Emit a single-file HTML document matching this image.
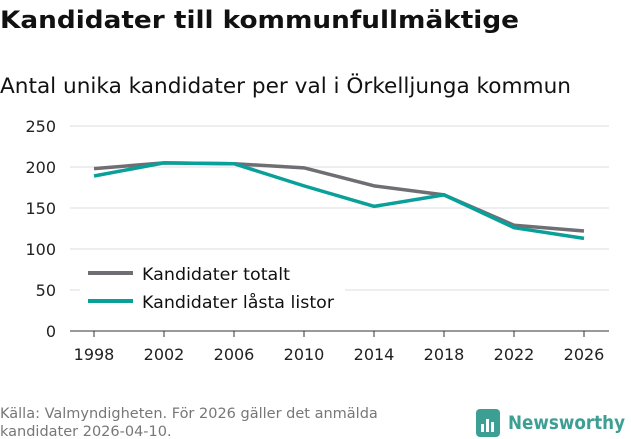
<!DOCTYPE html>
<html><head><meta charset="utf-8"><style>
body{margin:0;background:#fff;width:631px;height:439px;overflow:hidden;font-family:"DejaVu Sans","Liberation Sans",sans-serif;}
svg{display:block}
</style></head><body>
<svg width="631" height="439">
<text x="0" y="28" font-size="24" font-weight="bold" fill="#111" textLength="519" lengthAdjust="spacingAndGlyphs">Kandidater till kommunfullmäktige</text>
<text x="0" y="93" font-size="21" fill="#111" textLength="571" lengthAdjust="spacingAndGlyphs">Antal unika kandidater per val i Örkelljunga kommun</text>
<g id="grid"></g><g id="xt"></g><g id="lines"></g>
<g>
<rect x="80" y="258" width="265" height="60" fill="#fff"/>
<line x1="88" y1="273" x2="133" y2="273" stroke="#6e6e73" stroke-width="4"/>
<text x="142" y="280" font-size="17" fill="#111" textLength="148" lengthAdjust="spacingAndGlyphs">Kandidater totalt</text>
<line x1="88" y1="301" x2="133" y2="301" stroke="#0aa09a" stroke-width="4"/>
<text x="142" y="308" font-size="17" fill="#111" textLength="192" lengthAdjust="spacingAndGlyphs">Kandidater låsta listor</text>
</g>
<text x="0" y="418" font-size="14.5" fill="#777">Källa: Valmyndigheten. För 2026 gäller det anmälda</text>
<text x="0" y="436" font-size="14.5" fill="#777">kandidater 2026-04-10.</text>
<g>
<rect x="476" y="409" width="24" height="28" rx="4" fill="#3d9f93"/>
<rect x="481" y="424" width="3" height="8" fill="#fff"/><rect x="486" y="419" width="3" height="13" fill="#fff"/><rect x="491" y="422" width="3" height="10" fill="#fff"/>
<text x="508" y="429" font-size="19" font-weight="bold" fill="#3d9f93" textLength="117" lengthAdjust="spacingAndGlyphs">Newsworthy</text>
</g>
</svg>
<script>
const years=["1998","2002","2006","2010","2014","2018","2022","2026"];
const totalt=[198,205,204,199,177,166,129,122];
const lasta=[189,205,204,177,152,166,126,113];
const yTicks=[0,50,100,150,200,250];
const NS="http://www.w3.org/2000/svg";
function y(v){return 331-v*(205/250);}
function x(i){return 94+i*70;}
function mk(t,a,p){const e=document.createElementNS(NS,t);for(const k in a)e.setAttribute(k,a[k]);p.appendChild(e);return e;}
const g=document.getElementById('grid');
yTicks.forEach(v=>{
 const l=mk('line',{x1:70,x2:609,y1:y(v),y2:y(v),stroke:v===0?'#333':'#ddd','stroke-width':1},g);
 
 
 const t=mk('text',{x:56,y:y(v)+6,'font-size':16,'text-anchor':'end',fill:'#222'},g);
 t.textContent=v;
 
 
});
const xt=document.getElementById('xt');
years.forEach((yr,i)=>{
 mk('line',{x1:x(i),x2:x(i),y1:331,y2:337,stroke:'#333'},xt);
 const t=mk('text',{x:x(i),y:360,'font-size':16,'text-anchor':'middle',fill:'#222'},xt);
 t.textContent=yr;
 
 
});
const L=document.getElementById('lines');
[[totalt,'#6e6e73','line-totalt'],[lasta,'#0aa09a','line-lasta']].forEach(([d,c,n])=>{
 const p=mk('polyline',{points:d.map((v,i)=>x(i)+','+y(v)).join(' '),fill:'none',stroke:c,'stroke-width':3.5,'stroke-linejoin':'round'},L);
 
 
});
</script>
</body></html>
